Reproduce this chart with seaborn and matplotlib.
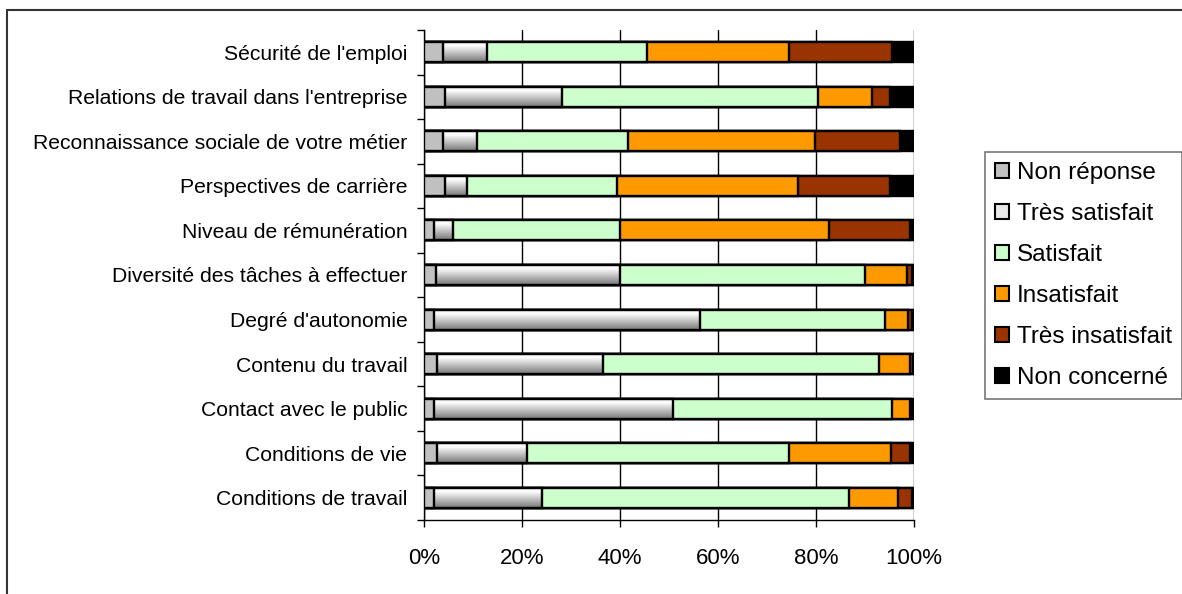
import seaborn as sns
import matplotlib.pyplot as plt
import pandas as pd
import numpy as np
from matplotlib.patches import Patch
from matplotlib.lines import Line2D
from matplotlib.colors import LinearSegmentedColormap

# ---------------------------------------------------------
# Data (percent of answers)
# ---------------------------------------------------------
categories = [
    "Sécurité de l'emploi",
    "Relations de travail dans l'entreprise",
    "Reconnaissance sociale de votre métier",
    "Perspectives de carrière",
    "Niveau de rémunération",
    "Diversité des tâches à effectuer",
    "Degré d'autonomie",
    "Contenu du travail",
    "Contact avec le public",
    "Conditions de vie",
    "Conditions de travail",
]

non_reponse = [3.9, 4.3, 3.9, 4.3, 2.0, 2.4, 2.0, 2.7, 2.0, 2.6, 2.0]
tres_satisfait = [8.9, 23.8, 6.9, 4.4, 4.0, 37.7, 54.3, 33.8, 48.8, 18.4, 22.0]
satisfait = [32.8, 52.4, 30.9, 30.6, 34.1, 49.9, 37.8, 56.4, 44.8, 53.5, 62.8]
insatisfait = [28.9, 10.9, 38.0, 37.1, 42.6, 8.5, 4.7, 6.3, 3.6, 20.8, 10.0]
tres_insatisfait = [21.0, 3.7, 17.4, 18.7, 16.5, 1.0, 0.7, 0.6, 0.2, 3.9, 2.7]
non_concerne = [4.5, 4.9, 2.9, 4.9, 0.8, 0.5, 0.5, 0.2, 0.6, 0.8, 0.5]

series_names = ["Non réponse", "Très satisfait", "Satisfait",
                "Insatisfait", "Très insatisfait", "Non concerné"]
series_colors = ["#C0C0C0", "#E8E8E8", "#CCFFCC", "#FF9900", "#993300", "#000000"]

df = pd.DataFrame(
    {
        "Non réponse": non_reponse,
        "Très satisfait": tres_satisfait,
        "Satisfait": satisfait,
        "Insatisfait": insatisfait,
        "Très insatisfait": tres_insatisfait,
        "Non concerné": non_concerne,
    },
    index=categories,
)
# 100% stacked -> normalise each row, then cumulate
df = df.div(df.sum(axis=1), axis=0) * 100
cum = df.cumsum(axis=1)

# ---------------------------------------------------------
# Styling
# ---------------------------------------------------------
sns.set_style("white")
plt.rcParams["font.family"] = ["Liberation Sans", "DejaVu Sans"]
plt.rcParams["text.color"] = "black"
plt.rcParams["xtick.color"] = "black"
plt.rcParams["ytick.color"] = "black"

fig = plt.figure(figsize=(11.82, 5.94), dpi=100)
ax = fig.add_axes([424 / 1182, 1 - 520 / 594, 490 / 1182, 490 / 594])

bar_h = 0.45
lw = 1.7

# draw from the last cumulative layer to the first so they overlap into a stack
for k in range(len(series_names) - 1, -1, -1):
    name = series_names[k]
    sns.barplot(
        x=cum[name].values,
        y=categories,
        order=categories,
        orient="h",
        color=series_colors[k],
        saturation=1,
        edgecolor="black",
        linewidth=lw,
        width=bar_h,
        ax=ax,
        zorder=2 + (len(series_names) - k),
    )
    if name == "Très satisfait":
        # gradient fill like the original chart
        for p in ax.containers[-1]:
            p.set_facecolor("none")
        grad_cmap = LinearSegmentedColormap.from_list(
            "grad", [(0, "#e4e4e4"), (0.2, "#ffffff"), (1, "#787878")]
        )
        grad = np.linspace(0, 1, 64).reshape(-1, 1)
        ts_z = 2 + (len(series_names) - k)
        for i in range(len(categories)):
            ax.imshow(
                grad,
                cmap=grad_cmap,
                aspect="auto",
                origin="upper",
                extent=(cum["Non réponse"].iloc[i], cum[name].iloc[i],
                        i + bar_h / 2, i - bar_h / 2),
                zorder=ts_z - 0.5,
                interpolation="bilinear",
            )

ax.set_xlim(0, 100)
ax.set_ylim(len(categories) - 0.5, -0.5)

# axes, grid, ticks
ax.set_xticks(np.arange(0, 101, 20))
ax.set_xticklabels([f"{v}%" for v in range(0, 101, 20)], fontsize=16)
ax.xaxis.grid(True, color="black", linewidth=1.0, zorder=0.5)
ax.set_axisbelow(True)
ax.tick_params(axis="x", which="major", direction="out", length=5,
               width=1, color="black", pad=15, bottom=True)
ax.set_yticks(range(len(categories)))
ax.set_yticklabels(categories, fontsize=15.2)
ax.set_yticks(np.arange(-0.5, len(categories), 1), minor=True)
ax.tick_params(axis="y", which="major", length=0, pad=12)
ax.tick_params(axis="y", which="minor", direction="out", length=5,
               width=1, color="black", left=True)
ax.set_xlabel("")
ax.set_ylabel("")

for side in ["top", "right"]:
    ax.spines[side].set_visible(False)
for side in ["left", "bottom"]:
    ax.spines[side].set_color("black")
    ax.spines[side].set_linewidth(1.0)

# legend
handles = [Patch(facecolor=c, edgecolor="black", linewidth=1.5)
           for c in series_colors]
leg = fig.legend(
    handles, series_names,
    loc="upper left",
    bbox_to_anchor=(985 / 1182, 1 - 152 / 594),
    frameon=True,
    fancybox=False,
    edgecolor="#555555",
    fontsize=17.5,
    handlelength=0.55,
    handleheight=0.55,
    handletextpad=0.35,
    labelspacing=0.78,
    borderpad=0.42,
    borderaxespad=0,
)
leg.get_frame().set_linewidth(1.2)

# outer chart frame (left and top edges visible)
fig.add_artist(Line2D([7 / 1182, 7 / 1182], [0, 1 - 10 / 594],
                      color="#333333", linewidth=1.5))
fig.add_artist(Line2D([7 / 1182, 1], [1 - 10 / 594, 1 - 10 / 594],
                      color="#333333", linewidth=1.5))

fig.savefig("out.png", dpi=100)
plt.close(fig)
